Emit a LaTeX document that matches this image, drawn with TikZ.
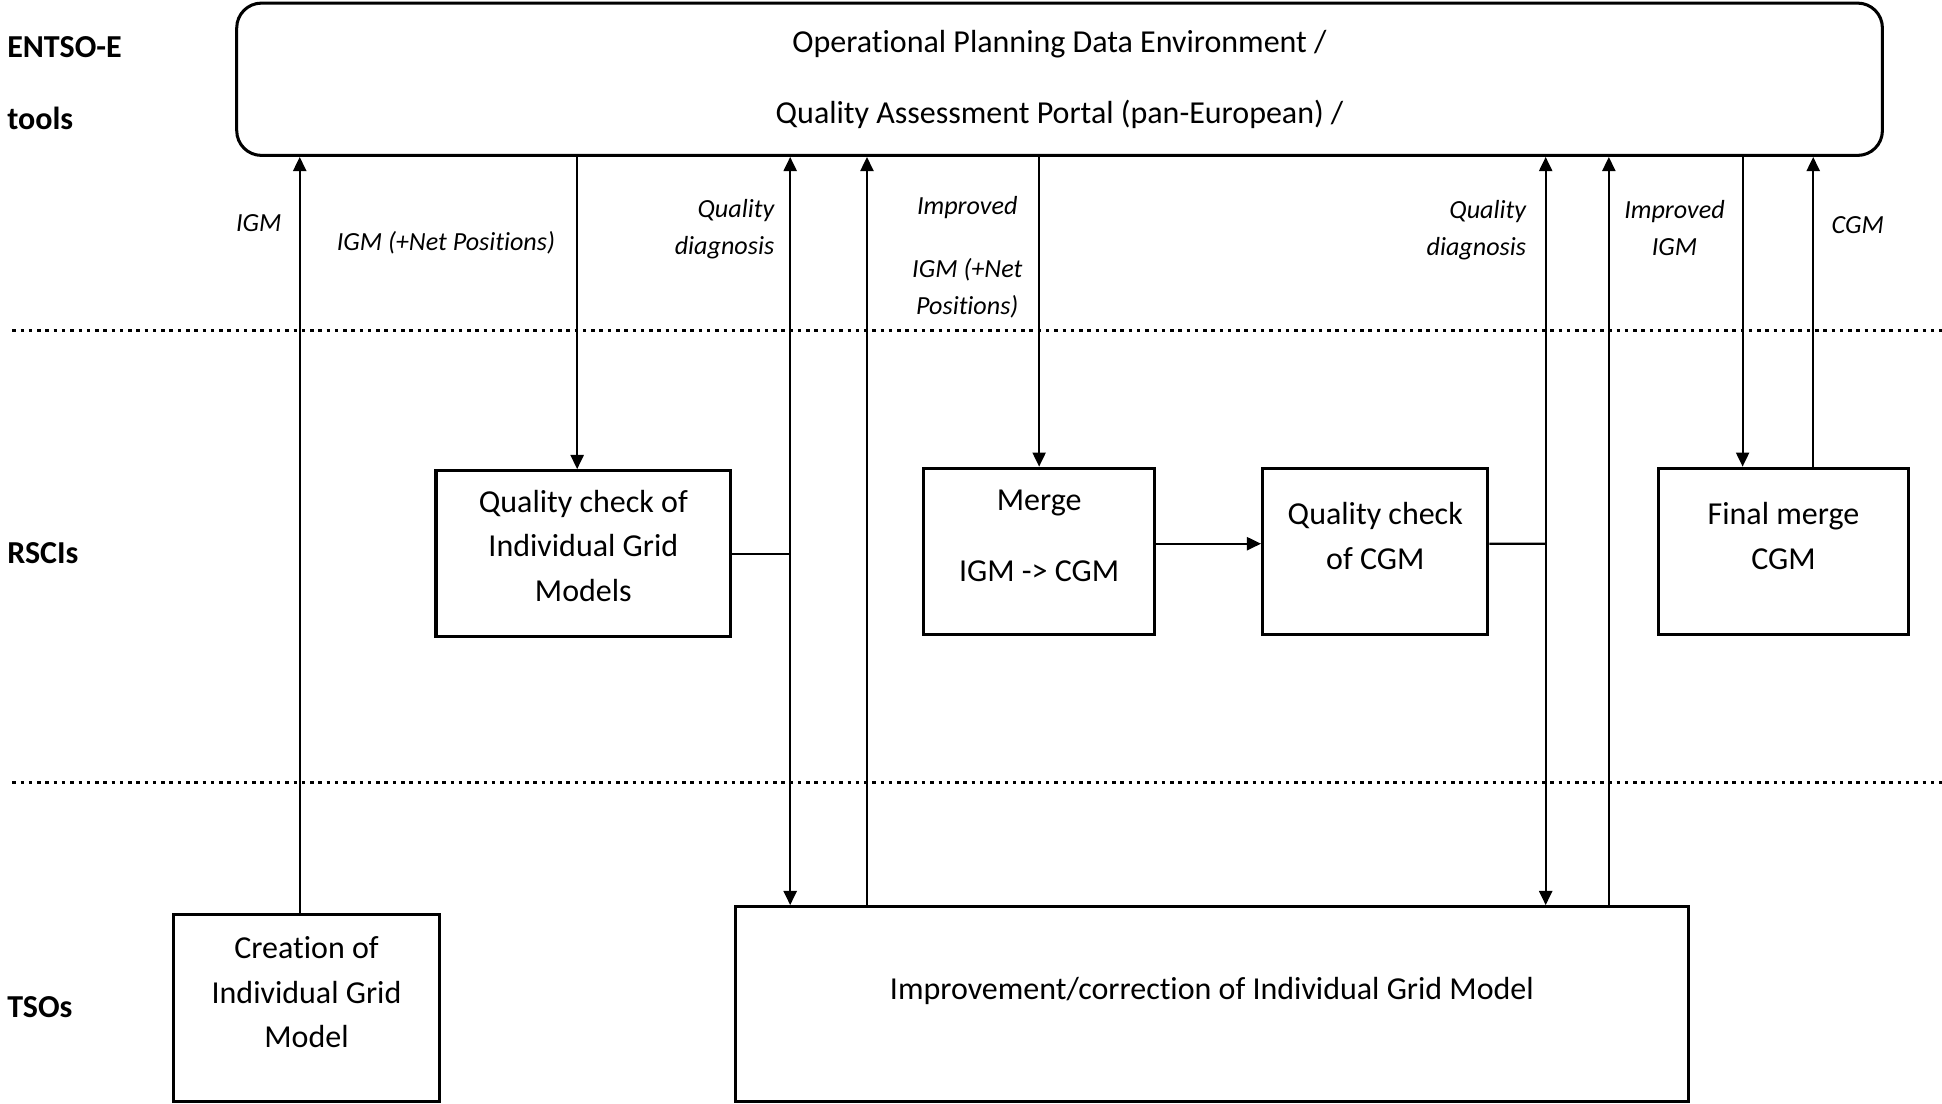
\documentclass[tikz,border=0pt]{standalone}
\usepackage{fontspec}
\setmainfont{Carlito}[Ligatures=NoCommon]
\usetikzlibrary{positioning}
\usetikzlibrary{arrows.meta}

\begin{document}
\begin{tikzpicture}[x=0.02cm, y=-0.02cm, line width=1pt,
  >={Triangle[length=6.5pt, width=6pt]},
  box/.style={draw, line width=1.4pt, align=center, inner sep=0pt, text depth=0.5cm,
    font=\fontsize{14.7}{20.5}\selectfont},
  lane/.style={anchor=west, inner sep=0pt, font=\bfseries\fontsize{14.7}{20.5}\selectfont},
  flow/.style={align=center, inner sep=0pt, font=\itshape\fontsize{12}{17}\selectfont},
  sep/.style={line width=1.6pt, dash pattern=on 1.6pt off 2.2pt}]
  \useasboundingbox (0,0) rectangle (1568,891);

  % layers
  \node[lane] (entso) at (5,38) {ENTSO-E};
  \node[lane] (tools) at (5,96) {tools};
  \node[lane] (rscis) at (5,447) {RSCIs};
  \node[lane] (tsos) at (5,813) {TSOs};
  \draw[sep] (10,267) -- (1568,267);
  \draw[sep] (10,632) -- (1568,632);

  % ENTSO-E tools
  \node[draw, line width=1.4pt, rounded corners=0.4cm, align=center, minimum width=26.58cm,
    minimum height=2.46cm, font=\fontsize{14.7}{20.5}\selectfont] (opde) at (855.5,64)
    {Operational Planning Data Environment /\\[11.9pt]Quality Assessment Portal (pan-European) /};

  % RSCIs
  \node[box, minimum width=4.76cm, minimum height=2.68cm, text depth=0.25cm] (qigm) at (471,447)
    {Quality check of\\Individual Grid\\Models};
  \node[box, minimum width=3.72cm, minimum height=2.68cm] (merge) at (839,445) {Merge\\[11.9pt]IGM -> CGM};
  \node[box, minimum width=3.64cm, minimum height=2.68cm, right=1.7cm of merge] (qcgm) {Quality check\\of CGM};
  \node[box, minimum width=4.04cm, minimum height=2.68cm] (final) at (1440,445) {Final merge\\CGM};

  % TSOs
  \node[box, minimum width=4.3cm, minimum height=3.02cm] (create) at (247.5,813.5)
    {Creation of\\Individual Grid\\Model};
  \node[box, minimum width=15.38cm, minimum height=3.14cm] (impr) at (978.5,810.5)
    {Improvement/correction of Individual Grid Model};

  % flows
  \coordinate (qdA) at (638,447);
  \coordinate (upA) at (700,732);
  \coordinate (qdB) at (1248,439);
  \coordinate (upB) at (1299,732);
  \coordinate (dnC) at (1407,378);
  \coordinate (upC) at (1464,378);
  \draw[->] ([xshift=-0.11cm]create.north) -- ([xshift=-0.11cm]create.north |- opde.south);
  \draw[->] ([xshift=-0.1cm]qigm.north |- opde.south) -- ([xshift=-0.1cm]qigm.north);
  \draw[<->] (opde.south -| qdA) -- (impr.north -| qdA);
  \draw (qigm.east) -- (qdA);
  \draw[->] (impr.north -| upA) -- (opde.south -| upA);
  \draw[->] (opde.south -| merge.north) -- (merge.north);
  \draw[->] ([yshift=0.12cm]merge.east) -- ([yshift=0.12cm]qcgm.west);
  \draw[<->] (opde.south -| qdB) -- (impr.north -| qdB);
  \draw ([yshift=0.12cm]qcgm.east) -- (qdB);
  \draw[->] (impr.north -| upB) -- (opde.south -| upB);
  \draw[->] (opde.south -| dnC) -- (final.north -| dnC);
  \draw[->] (final.north -| upC) -- (opde.south -| upC);

  % flow labels
  \node[flow] (lbigm) at (209,180) {IGM};
  \node[flow] (lbnet) at (360,196) {IGM (+Net Positions)};
  \node[flow, align=right, anchor=east] (lbqda) at (626,185) {Quality\\diagnosis};
  \node[flow] (lbimpa) at (781,208) {Improved\\[12pt]IGM (+Net\\Positions)};
  \node[flow, align=right, anchor=east] (lbqdb) at (1233,186) {Quality\\diagnosis};
  \node[flow] (lbimpb) at (1352,184) {Improved\\IGM};
  \node[flow] (lbcgm) at (1500,182) {CGM};
\end{tikzpicture}
\end{document}
